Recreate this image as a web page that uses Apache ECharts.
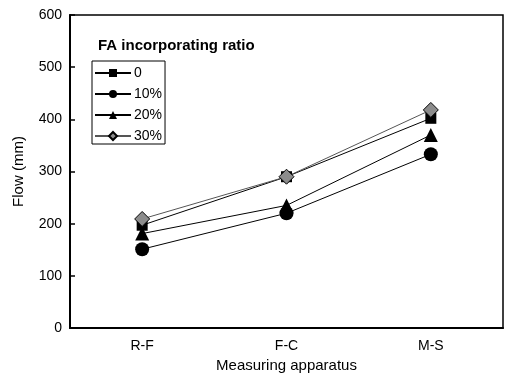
<!DOCTYPE html>
<html>
<head>
<meta charset="utf-8">
<script src="https://cdn.jsdelivr.net/npm/echarts@6/dist/echarts.min.js"></script>
<style>
  html, body { margin: 0; padding: 0; background: #fff; }
  #chart { width: 509px; height: 378px; }
</style>
</head>
<body>
<div id="chart"></div>
<script>
  // data
  var categories = ['R-F', 'F-C', 'M-S'];
  var seriesNames = ['0', '10%', '20%', '30%'];
  var flow0 = [197, 290, 402];
  var flow10 = [151, 220, 333];
  var flow20 = [181, 235, 370];
  var flow30 = [209, 290, 418];
  var yTicks = [0, 100, 200, 300, 400, 500, 600];

  var chart = echarts.init(document.getElementById('chart'));
  var font = 'Liberation Sans, Arial, sans-serif';

  function line(name, data, symbol, size, color, lineColor) {
    return {
      name: name,
      type: 'line',
      data: data,
      symbol: symbol,
      symbolSize: size,
      itemStyle: { color: color, borderColor: '#000', borderWidth: symbol === 'diamond' ? 1 : 0 },
      lineStyle: { color: lineColor, width: 1 }
    };
  }

  var option = {
    animation: false,
    textStyle: { fontFamily: font },
    title: {
      text: 'FA incorporating ratio',
      left: 93,
      top: 33,
      textStyle: { fontSize: 15, fontWeight: 'bold', color: '#000', fontFamily: font }
    },
    legend: {
      orient: 'vertical',
      left: 92,
      top: 61,
      padding: [5, 3, 1, 2],
      itemGap: 7,
      itemWidth: 36,
      itemHeight: 10,
      borderColor: '#000',
      borderWidth: 1,
      textStyle: { fontSize: 14, color: '#000', fontFamily: font, padding: [0, 0, 0, -2] },
      data: seriesNames
    },
    grid: {
      left: 70,
      right: 6,
      top: 15,
      bottom: 45,
      show: true,
      borderColor: '#000',
      borderWidth: 1.5
    },
    xAxis: {
      type: 'category',
      data: categories,
      boundaryGap: true,
      name: 'Measuring apparatus',
      nameLocation: 'middle',
      nameGap: 30,
      nameTextStyle: { fontSize: 15, color: '#000' },
      axisLine: { lineStyle: { color: '#000', width: 2 } },
      axisTick: { inside: true, length: 5, alignWithLabel: true, lineStyle: { color: '#000', width: 1.5 } },
      axisLabel: { fontSize: 14, color: '#000', margin: 11 },
      splitLine: { show: false }
    },
    yAxis: {
      type: 'value',
      min: yTicks[0],
      max: yTicks[yTicks.length - 1],
      interval: 100,
      name: 'Flow (mm)',
      nameLocation: 'middle',
      nameGap: 44,
      nameTextStyle: { fontSize: 15, color: '#000' },
      axisLine: { show: true, lineStyle: { color: '#000', width: 2 } },
      axisTick: { show: true, inside: true, length: 5, lineStyle: { color: '#000', width: 1.5 } },
      axisLabel: { fontSize: 14, color: '#000', margin: 8 },
      splitLine: { show: false }
    },
    series: [
      line(seriesNames[0], flow0, 'rect', 11, '#000', '#000'),
      line(seriesNames[1], flow10, 'circle', 14, '#000', '#000'),
      line(seriesNames[2], flow20, 'triangle', 14, '#000', '#000'),
      line(seriesNames[3], flow30, 'diamond', 15, '#8c8c8c', '#555')
    ]
  };

  chart.setOption(option);
</script>
</body>
</html>
